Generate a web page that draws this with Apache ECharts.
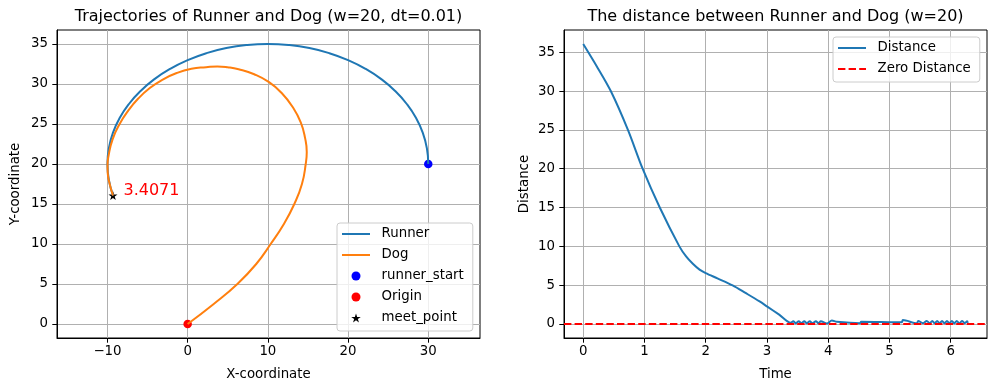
<!DOCTYPE html>
<html><head><meta charset="utf-8">
<script src="https://cdn.jsdelivr.net/npm/echarts@6/dist/echarts.min.js"></script>
<style>html,body{margin:0;padding:0;background:#fff}#c{width:997px;height:391px}</style>
</head><body><div id="c"></div><script>
// ---- data ----
const runnerX = [30, 29.83, 29.32, 28.48, 27.32, 25.87, 24.14, 22.18, 20, 17.65, 15.18, 12.61, 10, 7.39, 4.82, 2.35, 0, -2.18, -4.14, -5.87, -7.32, -8.48, -9.32, -9.83, -10, -9.83, -9.31];
const runnerY = [20, 21.96, 23.88, 25.74, 27.5, 29.13, 30.61, 31.90, 32.99, 33.86, 34.49, 34.87, 35, 34.87, 34.49, 33.86, 32.99, 31.90, 30.61, 29.13, 27.5, 25.74, 23.88, 21.96, 20, 18.04, 16.06];
const dogX = [0, 3.25, 6.2, 8.55, 10.35, 12.0, 13.3, 14.25, 14.72, 14.85, 14.65, 14.1, 13.07, 11.75, 10.15, 8.3, 6.35, 5.0, 3.7, 2.3, 0.47, -1.37, -3.12, -4.72, -6.16, -7.41, -8.5, -9.36, -9.87, -9.99, -9.96, -9.73, -9.31];
const dogY = [0, 2.5, 5, 7.5, 10, 12.5, 15, 17.5, 20, 21.5, 23.2, 25.2, 27.16, 28.84, 30.23, 31.22, 31.85, 32.1, 32.2, 32.1, 31.9, 31.37, 30.55, 29.49, 28.18, 26.67, 24.97, 23.08, 21.0, 19.92, 18.82, 17.52, 16.06];
const runnerStart = [30, 20];
const origin = [0, 0];
const meetPoint = [-9.31, 16.06];
const meetLabel = '3.4071';
const distT = [0, 0.22, 0.45, 0.73, 0.97, 1.25, 1.57, 1.68, 1.79, 1.9, 2.0, 2.2, 2.44, 2.65, 2.88, 3.0, 3.2, 3.39,
  3.43, 3.47, 3.52, 3.56, 3.61, 3.65, 3.70, 3.74, 3.80, 3.84, 3.88, 3.98, 4.06, 4.14, 4.52, 4.54, 5.20, 5.22, 5.45,
  5.47, 5.55, 5.61, 5.66, 5.70, 5.74, 5.78, 5.82, 5.86, 5.90, 5.94, 5.98, 6.02, 6.06, 6.10, 6.14, 6.19, 6.23, 6.27, 6.28];
const distV = [36.06, 33.2, 30.0, 25.0, 20.0, 15.0, 10.0, 8.7, 7.75, 7.0, 6.56, 5.85, 4.97, 4.0, 2.91, 2.27, 1.2, 0.15,
  0.35, 0.1, 0.35, 0.1, 0.35, 0.1, 0.35, 0.1, 0.35, 0.1, 0.35, 0.08, 0.45, 0.28, 0.1, 0.3, 0.22, 0.5, 0.1,
  0.4, 0.1, 0.4, 0.1, 0.4, 0.1, 0.4, 0.1, 0.4, 0.1, 0.4, 0.1, 0.4, 0.1, 0.4, 0.1, 0.4, 0.1, 0.35, 0.15];
const zeroLevel = 0;
const xTicksL = [-10, 0, 10, 20, 30];
const yTicksL = [0, 5, 10, 15, 20, 25, 30, 35];
const xTicksR = [0, 1, 2, 3, 4, 5, 6];
const yTicksR = [0, 5, 10, 15, 20, 25, 30, 35];

// ---- chart ----
const FF = 'DejaVu Sans';
const FS = 13.33;
const zip = (a, b) => a.map((v, i) => [v, b[i]]);
const fmt = v => String(v).replace('-', '\u2212');
const STAR = 'path://M50,0 L61.8,35.1 L98.6,35.1 L68.8,56.8 L80.2,91.9 L50,70.2 L19.8,91.9 L31.2,56.8 L1.4,35.1 L38.2,35.1 Z';
const LINE_ICON = 'path://M0,0h28v2h-28z';
const DASH_ICON = 'path://M0,0h7.4v2h-7.4z M10.6,0h7.4v2h-7.4z M21.2,0h6.8v2h-6.8z';

function xAx(grid, min, max, ticks, name, gap) {
  return {
    type: 'value', gridIndex: grid, min, max, name, nameLocation: 'middle', nameGap: gap,
    nameTextStyle: {fontSize: FS, color: '#000', fontFamily: FF},
    axisLine: {show: true, onZero: false, lineStyle: {color: '#000', width: 1}},
    axisTick: {show: true, length: 4.7, lineStyle: {color: '#000', width: 1}, customValues: ticks},
    axisLabel: {customValues: ticks, color: '#000', fontSize: FS, fontFamily: FF, margin: 7, formatter: fmt},
    splitLine: {show: true, lineStyle: {color: '#b0b0b0', width: 1}}
  };
}
function yAx(grid, min, max, ticks, name, gap) {
  const a = xAx(grid, min, max, ticks, name, gap);
  a.axisLabel.margin = 9;
  return a;
}
const legendBase = {
  orient: 'vertical', itemWidth: 28, itemHeight: 9, itemGap: 5,
  padding: [3, 9, 5, 5], backgroundColor: 'rgba(255,255,255,0.8)', borderColor: '#cccccc', borderWidth: 1, borderRadius: 3,
  textStyle: {fontSize: FS, color: '#000', fontFamily: FF, lineHeight: 16, padding: [0, 0, 0, 6.6]},
  selectedMode: false
};

const chart = echarts.init(document.getElementById('c'), null, {renderer: 'canvas'});
chart.setOption({
  animation: false,
  backgroundColor: '#fff',
  title: [
    {text: 'Trajectories of Runner and Dog (w=20, dt=0.01)', left: 268.5, top: 9, textAlign: 'center', padding: 0,
      textStyle: {fontSize: 16, fontWeight: 'normal', color: '#000', fontFamily: FF}},
    {text: 'The distance between Runner and Dog (w=20)', left: 775.5, top: 9, textAlign: 'center', padding: 0,
      textStyle: {fontSize: 16, fontWeight: 'normal', color: '#000', fontFamily: FF}}
  ],
  grid: [
    {left: 57, top: 30, width: 423, height: 308, show: true, borderColor: '#000', borderWidth: 1},
    {left: 564, top: 30, width: 423, height: 308, show: true, borderColor: '#000', borderWidth: 1}
  ],
  xAxis: [
    xAx(0, -16.29, 36.45, xTicksL, 'X-coordinate', 30),
    xAx(1, -0.314, 6.594, xTicksR, 'Time', 30)
  ],
  yAxis: [
    yAx(0, -1.75, 36.75, yTicksL, 'Y-coordinate', 35),
    yAx(1, -1.803, 37.863, yTicksR, 'Distance', 33)
  ],
  legend: [
    Object.assign({}, legendBase, {left: 337, top: 223,
      data: [{name: 'Runner', icon: LINE_ICON}, {name: 'Dog', icon: LINE_ICON},
        {name: 'runner_start', icon: 'circle'}, {name: 'Origin', icon: 'circle'}, {name: 'meet_point', icon: STAR}]}),
    Object.assign({}, legendBase, {left: 833, top: 37,
      data: [{name: 'Distance', icon: LINE_ICON}, {name: 'Zero Distance', icon: DASH_ICON}]})
  ],
  series: [
    {name: 'Runner', type: 'line', xAxisIndex: 0, yAxisIndex: 0, data: zip(runnerX, runnerY), symbol: 'none', smooth: true,
      lineStyle: {color: '#1f77b4', width: 2}, itemStyle: {color: '#1f77b4'}},
    {name: 'Dog', type: 'line', xAxisIndex: 0, yAxisIndex: 0, data: zip(dogX, dogY), symbol: 'none', smooth: true,
      lineStyle: {color: '#ff7f0e', width: 2}, itemStyle: {color: '#ff7f0e'}},
    {name: 'runner_start', type: 'scatter', xAxisIndex: 0, yAxisIndex: 0, data: [runnerStart], symbol: 'circle', symbolSize: 8.5,
      itemStyle: {color: '#0000ff', opacity: 1}},
    {name: 'Origin', type: 'scatter', xAxisIndex: 0, yAxisIndex: 0, data: [origin], symbol: 'circle', symbolSize: 8.5,
      itemStyle: {color: '#ff0000', opacity: 1}},
    {name: 'meet_point', type: 'scatter', xAxisIndex: 0, yAxisIndex: 0, data: [meetPoint], symbol: STAR, symbolSize: 9,
      itemStyle: {color: '#000', opacity: 1},
      label: {show: true, position: 'right', distance: 6, formatter: meetLabel, color: '#ff0000', fontSize: 16, fontFamily: FF, offset: [0, -5]}},
    {name: 'Distance', type: 'line', xAxisIndex: 1, yAxisIndex: 1, data: zip(distT, distV), symbol: 'none', smooth: 0.3,
      lineStyle: {color: '#1f77b4', width: 2}, itemStyle: {color: '#1f77b4'}},
    {name: 'Zero Distance', type: 'line', xAxisIndex: 1, yAxisIndex: 1, data: [], symbol: 'none',
      lineStyle: {color: '#ff0000', width: 2, type: [7.4, 3.2]}, itemStyle: {color: '#ff0000'},
      markLine: {silent: true, symbol: 'none', label: {show: false},
        lineStyle: {color: '#ff0000', width: 2, type: [7.4, 3.2]}, data: [{yAxis: zeroLevel}]}}
  ]
});
</script></body></html>
